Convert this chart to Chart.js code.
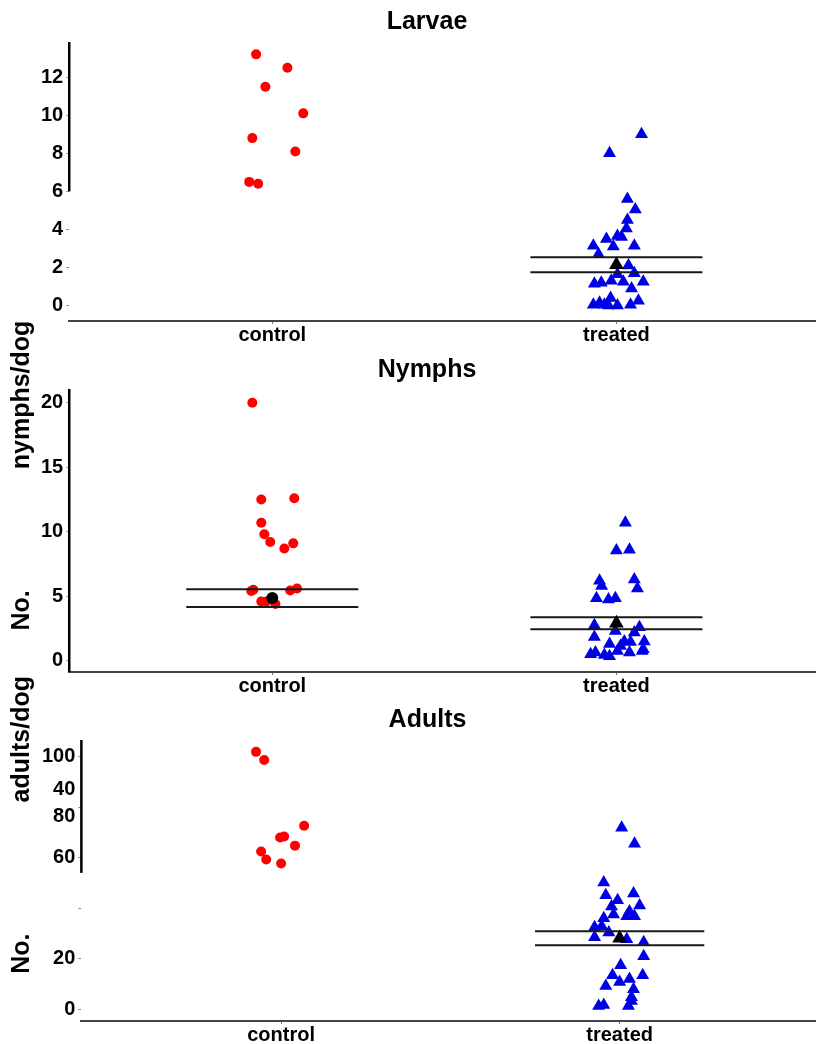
<!DOCTYPE html>
<html>
<head>
<meta charset="utf-8">
<script src="https://cdn.jsdelivr.net/npm/chart.js@4.4.1/dist/chart.umd.min.js"></script>
<style>
  html, body { margin: 0; padding: 0; background: #fff; overflow: hidden; }
  #wrap { position: relative; width: 816px; height: 1044px; }
  #wrap canvas { position: absolute; left: 0; }
</style>
</head>
<body>
<div id="wrap">
  <canvas id="larvae" width="816" height="350" style="top:0px"></canvas>
  <canvas id="nymphs" width="816" height="400" style="top:300px"></canvas>
  <canvas id="adults" width="816" height="400" style="top:650px"></canvas>
</div>
<script>
// categories on the x axis
const categories = ['control', 'treated'];

// Larvae
const larvaeControl = [13.2, 12.5, 11.5, 10.1, 8.8, 8.1, 6.5, 6.4];
const larvaeControlJitter = [-0.047, 0.044, -0.02, 0.09, -0.058, 0.067, -0.067, -0.041];
const larvaeTreated = [9.0, 8.0, 5.6, 5.05, 4.5, 4.05, 3.5, 3.65, 3.6, 3.15, 3.1, 3.15, 2.7, 2.1, 1.65, 1.7,
  1.25, 1.15, 1.2, 1.3, 1.25, 0.9, 0.05, 0.15, 0.05, 0.4, 0, 0, 0.05, 0.25];
const larvaeTreatedJitter = [0.073, -0.02, 0.032, 0.055, 0.032, 0.029, -0.029, 0.003, 0.015, -0.067, -0.009, 0.052,
  -0.052, 0.035, 0.003, 0.052, 0.078, -0.064, -0.044, -0.015, 0.02, 0.044, -0.067, -0.049, -0.035, -0.017,
  -0.023, 0.003, 0.041, 0.064];
const larvaeMean = [null, 2.14];
const larvaeUpper = [null, 2.54];
const larvaeLower = [null, 1.75];
const larvaeTicks = [0, 2, 4, 6, 8, 10, 12];

// Nymphs
const nymphsControl = [20.0, 12.5, 12.6, 10.7, 9.8, 9.2, 8.7, 9.1, 5.4, 5.5, 4.6, 4.6, 4.4, 5.45, 5.6];
const nymphsControlJitter = [-0.058, -0.032, 0.064, -0.032, -0.023, -0.006, 0.035, 0.061, -0.061, -0.055,
  -0.032, -0.017, 0.009, 0.052, 0.072];
const nymphsTreated = [10.7, 8.55, 8.6, 6.2, 6.3, 5.6, 5.8, 4.85, 4.75, 4.85, 2.75, 2.6, 2.2, 1.85, 1.3, 1.5,
  1.45, 1.5, 0.9, 0.65, 0.45, 0.35, 0.75, 0.65, 0.75, 0.5, 1.15, 2.3];
const nymphsTreatedJitter = [0.026, 0, 0.038, -0.049, 0.052, 0.061, -0.043, -0.058, -0.023, -0.003, -0.064,
  0.067, 0.052, -0.064, -0.02, 0.023, 0.041, 0.081, 0.078, -0.061, -0.035, -0.02, 0.003, 0.038, 0.075,
  -0.075, 0.012, -0.003];
const nymphsMean = [4.86, 2.91];
const nymphsUpper = [5.54, 3.37];
const nymphsLower = [4.17, 2.45];
const nymphsTicks = [0, 5, 10, 15, 20];

// Adults
const adultsControl = [102, 98.8, 72.7, 68.0, 68.4, 64.8, 62.5, 59.3, 57.7];
const adultsControlJitter = [-0.074, -0.05, 0.068, -0.003, 0.009, 0.041, -0.059, -0.044, 0];
const adultsTreated = [71.9, 65.6, 50.2, 45.1, 45.8, 43.1, 40.7, 41.1, 38.7, 36.8, 36.8, 37.5, 36.0, 32.4,
  32.8, 30.4, 28.5, 27.7, 26.5, 20.9, 17.4, 13.4, 13.4, 10.7, 11.9, 9.1, 7.9, 4.7, 3.2, 1.2, 1.6, 1.2];
const adultsTreatedJitter = [0.006, 0.044, -0.047, -0.041, 0.041, -0.006, -0.024, 0.059, 0.029, 0.021, 0.044,
  -0.018, -0.047, -0.074, -0.053, -0.032, -0.074, 0.021, 0.071, 0.071, 0.003, -0.021, 0.068, 0, 0.029,
  -0.041, 0.041, 0.035, 0.035, -0.062, -0.047, 0.026];
const adultsMean = [null, 28.1];
const adultsUpper = [null, 30.9];
const adultsLower = [null, 25.3];
const adultsTicks = [0, 20, 40, 60, 80, 100];

const FONT = 'Liberation Sans, Arial, Helvetica, sans-serif';
Chart.defaults.font.family = FONT;
Chart.defaults.color = '#000';

const jitter = (vals, offs, cat) => vals.map((v, i) => ({ x: cat + offs[i], y: v }));

// y axis line, shifted tick labels and the split y title
const extras = {
  id: 'extras',
  afterDraw(chart, args, opts) {
    const { ctx, chartArea, scales: { y } } = chart;
    ctx.save();
    const yEnd = opts.axisTo == null ? chartArea.bottom : y.getPixelForValue(opts.axisTo);
    ctx.strokeStyle = '#000';
    ctx.lineWidth = 2.5;
    ctx.beginPath();
    ctx.moveTo(chartArea.left, chartArea.top);
    ctx.lineTo(chartArea.left, yEnd);
    ctx.stroke();

    ctx.fillStyle = '#000';
    ctx.font = 'bold 20px ' + FONT;
    ctx.textAlign = 'right';
    ctx.textBaseline = 'middle';
    (opts.moved || []).forEach(m => ctx.fillText(m.text, chartArea.left - 6, y.getPixelForValue(m.at)));

    ctx.font = 'bold 25px ' + FONT;
    ctx.textAlign = 'center';
    (opts.side || []).forEach(s => {
      ctx.save();
      ctx.translate(22, y.getPixelForValue(s.at));
      ctx.rotate(-Math.PI / 2);
      ctx.fillText(s.text, 0, 0);
      ctx.restore();
    });
    ctx.restore();
  }
};

function errLine(vals, i) {
  if (vals[i] == null) return [];
  return [{ x: i + 1 - 0.25, y: vals[i] }, { x: i + 1 + 0.25, y: vals[i] }];
}

function makePanel(id, p) {
  const movedText = (p.moved || []).map(m => m.text);
  const datasets = [
    { data: jitter(p.ctrl, p.ctrlJit, 1), backgroundColor: '#ff0000', borderWidth: 0,
      pointStyle: 'circle', pointRadius: 5, order: 5 },
    { data: jitter(p.trt, p.trtJit, 2), backgroundColor: '#0000e6', borderWidth: 0,
      pointStyle: 'triangle', pointRadius: 7.5, order: 4 }
  ];
  [0, 1].forEach(i => {
    [p.upper, p.lower].forEach(arr => {
      datasets.push({ data: errLine(arr, i), showLine: true, borderColor: '#1a1a1a', borderWidth: 2,
        pointRadius: 0, order: 2 });
    });
    if (p.mean[i] != null) {
      datasets.push({ data: [{ x: i + 1, y: p.mean[i] }], backgroundColor: '#000', borderWidth: 0,
        pointStyle: i === 0 ? 'circle' : 'triangle', pointRadius: i === 0 ? 6 : 8.5, order: 1 });
    }
  });

  new Chart(document.getElementById(id), {
    type: 'scatter',
    data: { datasets },
    options: {
      responsive: false,
      animation: false,
      layout: { autoPadding: false, padding: { top: p.padTop, left: p.padLeft, right: 0, bottom: p.padBottom } },
      plugins: {
        legend: { display: false },
        tooltip: { enabled: false },
        title: { display: true, text: p.title, color: '#000',
          font: { size: 25, weight: 'bold' }, padding: { top: p.titleTop, bottom: p.titleBottom } },
        extras: { axisTo: p.axisTo, moved: p.moved, side: p.side }
      },
      scales: {
        x: {
          type: 'linear', min: 0.41, max: 2.58,
          afterBuildTicks: s => { s.ticks = categories.map((c, i) => ({ value: i + 1 })); },
          ticks: { callback: v => categories[v - 1], padding: 1, maxRotation: 0,
            font: { size: 20, weight: 'bold', lineHeight: 1 }, color: '#000' },
          grid: { display: true, drawOnChartArea: false, drawTicks: true, tickLength: 3, color: '#777' },
          border: { display: true, color: '#444', width: 2 }
        },
        y: {
          min: p.yMin, max: p.yMax,
          afterBuildTicks: s => { s.ticks = p.ticks.map(v => ({ value: v })); },
          ticks: { callback: v => movedText.includes(String(v)) ? '' : String(v), padding: 3,
            font: { size: 20, weight: 'bold' }, color: '#000' },
          grid: { display: true, drawOnChartArea: false, drawTicks: true, tickLength: 3, color: '#888' },
          border: { display: false }
        }
      }
    },
    plugins: [extras]
  });
}

makePanel('larvae', {
  title: 'Larvae', padTop: 0, padBottom: 4, padLeft: 38, titleTop: 7, titleBottom: 5,
  ctrl: larvaeControl, ctrlJit: larvaeControlJitter, trt: larvaeTreated, trtJit: larvaeTreatedJitter,
  mean: larvaeMean, upper: larvaeUpper, lower: larvaeLower, ticks: larvaeTicks,
  yMin: -0.81, yMax: 13.85, axisTo: 6, moved: [], side: []
});

makePanel('nymphs', {
  title: 'Nymphs', padTop: 50, padBottom: 3, padLeft: 38, titleTop: 5, titleBottom: 4,
  ctrl: nymphsControl, ctrlJit: nymphsControlJitter, trt: nymphsTreated, trtJit: nymphsTreatedJitter,
  mean: nymphsMean, upper: nymphsUpper, lower: nymphsLower, ticks: nymphsTicks,
  yMin: -0.87, yMax: 21.06, axisTo: null, moved: [],
  side: [{ text: 'No.', at: 3.9 }, { text: 'nymphs/dog', at: 20.6 }]
});

makePanel('adults', {
  title: 'Adults', padTop: 50, padBottom: 4, padLeft: 39, titleTop: 5, titleBottom: 5,
  ctrl: adultsControl, ctrlJit: adultsControlJitter, trt: adultsTreated, trtJit: adultsTreatedJitter,
  mean: adultsMean, upper: adultsUpper, lower: adultsLower, ticks: adultsTicks,
  yMin: -4.74, yMax: 106.7, axisTo: 54,
  moved: [{ text: '40', at: 87 }, { text: '80', at: 76.3 }],
  side: [{ text: 'No.', at: 22 }, { text: 'adults/dog', at: 107 }]
});
</script>
</body>
</html>
